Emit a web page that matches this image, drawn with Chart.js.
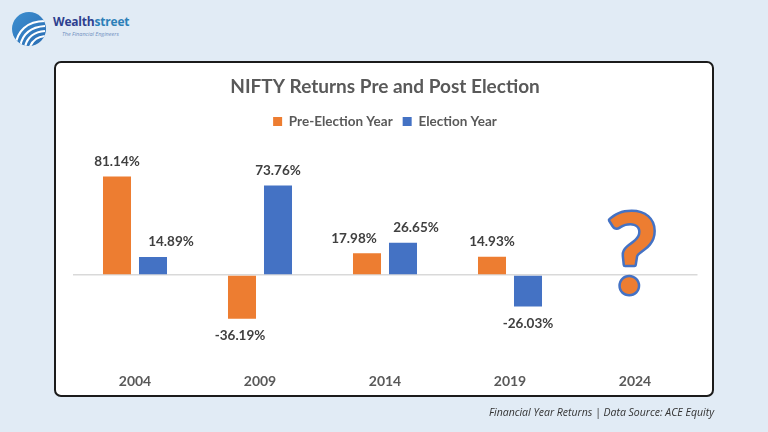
<!DOCTYPE html>
<html>
<head>
<meta charset="utf-8">
<title>NIFTY Returns Pre and Post Election</title>
<script src="https://cdn.jsdelivr.net/npm/chart.js@4.4.1/dist/chart.umd.min.js"></script>
<style>
  html, body { margin: 0; padding: 0; }
  body {
    width: 768px; height: 432px; position: relative; overflow: hidden;
    background: #e1ebf5; font-family: "Open Sans", sans-serif;
  }
  .card {
    position: absolute; left: 54px; top: 61px; width: 660px; height: 336px;
    box-sizing: border-box; border: 2px solid #1b1b1b; border-radius: 7px; background: #fff;
  }
  #chart { position: absolute; left: 0; top: 0; }
  .logo { position: absolute; left: 11px; top: 11px; }
  .brand {
    position: absolute; left: 53px; top: 15px; font-weight: 700; font-size: 12px;
    letter-spacing: -0.2px; line-height: 14px; color: #2d3f8f;
  }
  .brand span { color: #2c7fb8; }
  .tag {
    position: absolute; left: 62px; top: 31px; font-style: italic; font-size: 5.5px;
    line-height: 7px; color: #6f8fbf;
  }
  .source {
    position: absolute; right: 54px; top: 404px; font-style: italic; font-size: 10.5px;
    line-height: 16px; color: #333;
  }
</style>
</head>
<body>
<svg class="logo" width="36" height="36" viewBox="0 0 36 36">
  <defs>
    <linearGradient id="lg" x1="0" y1="0" x2="1" y2="1">
      <stop offset="0" stop-color="#3d8fd0"/>
      <stop offset="1" stop-color="#2a6db3"/>
    </linearGradient>
    <clipPath id="cc"><circle cx="18" cy="18" r="17"/></clipPath>
  </defs>
  <circle cx="18" cy="18" r="17" fill="url(#lg)"/>
  <g clip-path="url(#cc)" fill="none" stroke="#fff" stroke-width="2.2">
    <path d="M4 36 C6 20 16 10 34 10"/>
    <path d="M9 36 C11 24 19 16 34 15"/>
    <path d="M14 36 C16 27 22 21 34 20"/>
    <path d="M19 36 C21 30 25 26 34 25"/>
  </g>
</svg>
<div class="brand">Wealth<span>street</span></div>
<div class="tag">The Financial Engineers</div>
<div class="card"></div>
<canvas id="chart" width="768" height="432"></canvas>
<div class="source">Financial Year Returns | Data Source: ACE Equity</div>

<script>
const years = ["2004", "2009", "2014", "2019", "2024"];
const preElection = [81.14, -36.19, 17.98, 14.93, null];
const electionYear = [14.89, 73.76, 26.65, -26.03, null];
const seriesNames = ["Pre-Election Year", "Election Year"];
const pendingYear = "2024";

const orange = "#ED7D31";
const blue = "#4472C4";
const textGray = "#595959";

// small sideways nudges for a few labels, as in the original
const labelNudge = [
    [0, -2, -13, 0, 0],
    [18, 0, 13, 0, 0],
];

const valueLabels = {
    id: "valueLabels",
    afterDatasetsDraw(chart) {
        const ctx = chart.ctx;
        ctx.save();
        ctx.font = "bold 13.5px Lato";
        ctx.fillStyle = "#404040";
        ctx.textAlign = "center";
        ctx.textBaseline = "middle";
        chart.data.datasets.forEach((ds, i) => {
            const meta = chart.getDatasetMeta(i);
            meta.data.forEach((bar, j) => {
                const v = ds.data[j];
                if (v === null) return;
                const y = v >= 0 ? bar.y - 15 : bar.y + 17;
                ctx.fillText(v.toFixed(2) + "%", bar.x + labelNudge[i][j], y);
            });
        });
        ctx.restore();
    },
};

const questionMark = {
    id: "questionMark",
    afterDatasetsDraw(chart) {
        const ctx = chart.ctx;
        const x = chart.scales.x.getPixelForValue(years.indexOf(pendingYear)) - 3;
        const y = chart.scales.y.getPixelForValue(-15);
        ctx.save();
        ctx.font = "bold 112px Lato";
        ctx.textAlign = "center";
        ctx.textBaseline = "alphabetic";
        ctx.lineJoin = "round";
        ctx.lineWidth = 5;
        ctx.strokeStyle = blue;
        ctx.strokeText("?", x, y);
        ctx.fillStyle = orange;
        ctx.fillText("?", x, y);
        ctx.restore();
    },
};

new Chart(document.getElementById("chart"), {
    type: "bar",
    data: {
        labels: years,
        datasets: [
            {
                label: seriesNames[0],
                data: preElection,
                backgroundColor: orange,
                categoryPercentage: 0.576,
                barPercentage: 0.778,
            },
            {
                label: seriesNames[1],
                data: electionYear,
                backgroundColor: blue,
                categoryPercentage: 0.576,
                barPercentage: 0.778,
            },
        ],
    },
    options: {
        responsive: false,
        animation: false,
        devicePixelRatio: 1,
        layout: {
            padding: { top: 0, left: 72.5, right: 70.5, bottom: 30.5 },
        },
        plugins: {
            title: {
                display: true,
                text: "NIFTY Returns Pre and Post Election",
                color: textGray,
                font: { family: "Lato", size: 19, weight: "bold" },
                padding: { top: 75, bottom: 7 },
            },
            legend: {
                display: true,
                position: "top",
                labels: {
                    color: textGray,
                    font: { family: "Lato", size: 13.5, weight: "bold" },
                    boxWidth: 9,
                    boxHeight: 9,
                    padding: 10,
                },
            },
            tooltip: { enabled: false },
        },
        scales: {
            x: {
                grid: { display: false, drawTicks: false },
                border: { display: false },
                ticks: {
                    color: textGray,
                    font: { family: "Lato", size: 14, weight: "bold" },
                    padding: 12,
                },
            },
            y: {
                min: -70.7,
                max: 112.7,
                grid: {
                    drawTicks: false,
                    color: ctx => (ctx.tick && ctx.tick.value === 0 ? "#d9d9d9" : "rgba(0,0,0,0)"),
                    lineWidth: 1.5,
                },
                border: { display: false },
                ticks: { display: false, stepSize: 1 },
            },
        },
    },
    plugins: [valueLabels, questionMark],
});
</script>
</body>
</html>
